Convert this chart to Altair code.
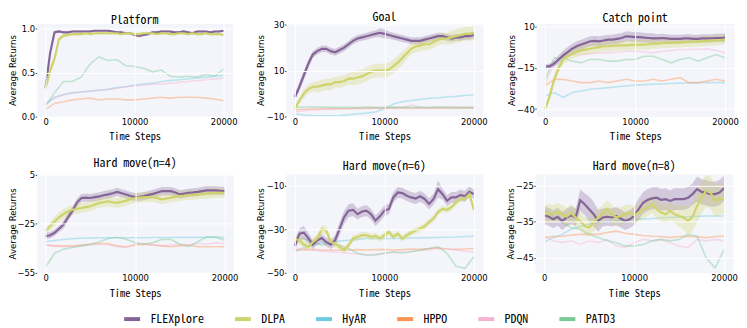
import altair as alt
import pandas as pd

X_MAIN = list(range(0, 20001, 500))
X_BASE = list(range(0, 20001, 1000))

SERIES = ["FLEXplore", "DLPA", "HyAR", "HPPO", "PDQN", "PATD3"]
COLORS = ["#856597", "#cfd36b", "#6dcde0", "#fb9352", "#f5b3d3", "#78ca96"]

MONO = "Noto Sans Mono CJK SC, DejaVu Sans Mono"

# ---------------- Platform ----------------
pf_flex = [0.33, 0.72, 0.96, 0.97, 0.96, 0.96, 0.97, 0.97, 0.97, 0.97,
           0.97, 0.98, 0.98, 0.98, 0.98, 0.97, 0.96, 0.96, 0.95, 0.95,
           0.93, 0.92, 0.93, 0.94, 0.96, 0.96, 0.97, 0.97, 0.97, 0.96,
           0.96, 0.97, 0.96, 0.95, 0.97, 0.97, 0.97, 0.96, 0.97, 0.97,
           0.98]
pf_flex_hw = [0.02, 0.05, 0.02, 0.01, 0.01, 0.01, 0.01, 0.01, 0.01, 0.01,
              0.01, 0.01, 0.01, 0.01, 0.01, 0.01, 0.01, 0.01, 0.01, 0.01,
              0.015, 0.015, 0.015, 0.01, 0.01, 0.01, 0.01, 0.01, 0.01, 0.01,
              0.01, 0.01, 0.01, 0.01, 0.01, 0.01, 0.01, 0.01, 0.01, 0.01,
              0.01]
pf_dlpa = [0.32, 0.52, 0.66, 0.88, 0.92, 0.93, 0.94, 0.94, 0.94, 0.95,
           0.94, 0.95, 0.95, 0.95, 0.95, 0.95, 0.95, 0.94, 0.95, 0.95,
           0.94, 0.94, 0.95, 0.95, 0.95, 0.94, 0.95, 0.95, 0.94, 0.94,
           0.95, 0.95, 0.94, 0.95, 0.94, 0.94, 0.95, 0.94, 0.94, 0.94,
           0.93]
pf_dlpa_hw = [0.02, 0.05, 0.05, 0.03, 0.02, 0.02, 0.015, 0.015, 0.015, 0.015,
              0.015, 0.015, 0.015, 0.015, 0.015, 0.015, 0.015, 0.015, 0.015, 0.015,
              0.015, 0.015, 0.015, 0.015, 0.015, 0.015, 0.015, 0.015, 0.015, 0.015,
              0.015, 0.015, 0.015, 0.015, 0.015, 0.015, 0.015, 0.015, 0.015, 0.015,
              0.015]
pf_hyar = [0.14, 0.22, 0.25, 0.27, 0.28, 0.29, 0.30, 0.31, 0.33, 0.34, 0.36,
           0.37, 0.38, 0.40, 0.41, 0.42, 0.43, 0.44, 0.45, 0.46, 0.47]
pf_hppo = [0.08, 0.15, 0.17, 0.19, 0.20, 0.21, 0.19, 0.20, 0.20, 0.19, 0.19,
           0.20, 0.21, 0.22, 0.21, 0.22, 0.22, 0.22, 0.21, 0.20, 0.18]
pf_pdqn = [0.15, 0.21, 0.25, 0.27, 0.28, 0.29, 0.30, 0.31, 0.32, 0.34, 0.35,
           0.36, 0.37, 0.37, 0.38, 0.39, 0.40, 0.41, 0.42, 0.43, 0.44]
pf_patd3 = [0.12, 0.27, 0.40, 0.40, 0.45, 0.60, 0.68, 0.64, 0.65, 0.58, 0.57,
            0.55, 0.51, 0.53, 0.46, 0.45, 0.46, 0.45, 0.48, 0.46, 0.54]

# ---------------- Goal ----------------
gl_flex = [-1.5, 3, 8, 13, 17, 18.5, 19.5, 19.5, 18.5, 18,
           19, 20, 21.5, 23, 24, 24.5, 25, 25.5, 26, 26.5,
           26, 25.5, 25, 24.5, 24, 23.5, 23, 23, 23, 23.5,
           24, 24.5, 25, 25, 24.5, 24, 24.5, 24.5, 25, 25,
           25.5]
gl_flex_hw = [1.5, 2, 2, 2, 1.5, 1.5, 1.5, 1.5, 1.5, 1.5,
              1.5, 1.5, 1.5, 1.5, 1.5, 1.5, 1.5, 1.5, 1.5, 2,
              2, 1.5, 1.5, 1.5, 1.5, 1.5, 1.5, 1.5, 1.5, 1.5,
              1.5, 1.5, 1.5, 1.5, 1.5, 1.5, 1.5, 1.5, 1.5, 1.5,
              1.5]
gl_dlpa = [-6.5, -3, 0, 2, 3, 3, 3.5, 4, 4, 5,
           5, 5.5, 6.5, 6.5, 7, 7.5, 8.5, 9.5, 10, 10,
           10, 10.5, 12, 13.5, 15.5, 17.5, 19.5, 20.5, 21, 21.5,
           21.5, 22.5, 23.5, 24, 24, 24.5, 25, 25.5, 26, 26,
           26.5]
gl_dlpa_hw = [1, 1.5, 2, 2, 2, 2.5, 2.5, 2.5, 2.5, 2.5,
              2.5, 2.5, 2.5, 3, 3, 3, 3, 3, 3, 3,
              3, 3, 3, 3, 3, 2.5, 2.5, 2.5, 2.5, 2.5,
              2.5, 2.5, 2.5, 2.5, 2.5, 3, 3, 3, 3, 3,
              3]
gl_hyar = [-8.8, -9.3, -9.6, -9.7, -9.7, -9.6, -9.2, -8.8, -8.5, -8, -6.5,
           -4.5, -3.5, -3, -2.5, -2, -1.8, -1.5, -1.2, -0.8, -0.5]
gl_hppo = [-7, -6.8, -6.7, -6.6, -6.5, -6.6, -6.6, -6.5, -6.5, -6.4, -6.4,
           -6.3, -6.3, -6.4, -6.3, -6.3, -6.3, -6.4, -6.3, -6.3, -6.3]
gl_pdqn = [-8, -7.5, -7, -7, -6.8, -6.5, -6.5, -6.3, -6, -6.2, -6.5,
           -6.3, -6, -5, -6, -6.3, -6, -5.8, -6, -6, -6.2]
gl_patd3 = [-6, -5.8, -5.8, -5.9, -6, -6, -6, -6.1, -6, -6, -6,
            -5.9, -6, -6, -6, -6, -5.9, -6, -6, -6, -6]

# ---------------- Catch point ----------------
cp_flex = [-14.5, -14, -12.5, -10, -7.5, -5.5, -3.5, -2, -1, 0,
           1, 1.2, 1, 1.5, 2, 2, 2.5, 3, 4, 3.8,
           3.5, 3.5, 3.2, 3, 2.8, 2.8, 3, 2.8, 2.5, 2.5,
           2.5, 2.8, 2.8, 2.5, 2.5, 2.8, 2.8, 2.8, 3, 3,
           3.2]
cp_flex_hw = [1.5, 1.5, 2, 2.5, 3, 3, 3, 3, 3, 3,
              3, 3, 3, 3, 3, 3, 3, 3, 3, 3,
              3, 3, 3, 3, 3, 2.5, 2.5, 2.5, 2.5, 2.5,
              2.5, 2.5, 2.5, 2.5, 2.5, 2.5, 2.5, 2.5, 2.5, 2.5,
              2.5]
cp_dlpa = [-40, -32, -22, -15, -10, -8, -6.5, -5.5, -4.5, -4,
           -3.5, -3, -2.5, -2, -2, -1.8, -1.5, -1.5, -1.5, -1.2,
           -1.2, -1, -1, -0.8, -0.5, -0.5, -0.2, 0, 0, 0.2,
           0.2, 0.5, 0.5, 0.8, 0.8, 1, 1.2, 1.5, 1.5, 1.8,
           2]
cp_dlpa_hw = [1, 2, 3, 3, 3, 3, 3, 3, 3, 3,
              3, 3, 3, 3, 3, 3, 3, 3, 3, 3,
              3, 3, 3, 3, 3, 3, 3, 3, 3, 3,
              3, 3, 3, 3, 3, 3, 3, 3, 3, 3,
              3]
cp_hyar = [-32, -30, -33, -30, -29, -28, -27.5, -27, -26.5, -26, -25.5,
           -25.2, -25, -24.8, -24.5, -24.3, -24.2, -24.1, -24, -24, -24]
cp_hppo = [-26, -22, -22, -23, -24, -24, -23, -24, -23, -22, -23,
           -23, -22, -23, -22, -21, -24, -24, -23, -22, -23]
cp_pdqn = [-25, -12, -8, -7, -7, -6.5, -6, -6, -5.5, -5, -5,
           -5.5, -6, -5, -4.5, -4, -4, -3.8, -3.6, -4.5, -6]
cp_patd3 = [-22, -9, -9, -11, -12, -10, -10, -11, -11, -10, -10,
            -8, -8, -10, -12, -10, -9, -11, -9, -7, -9]

# ---------------- Hard move (n=4) ----------------
h4_flex = [-32.5, -32, -30.5, -28, -25.5, -21, -17, -12, -9.2, -9,
           -9.2, -8.7, -8.2, -7.5, -7, -6.3, -5.5, -6.3, -7.1, -8,
           -8.7, -8.5, -8, -7.3, -6.7, -5.8, -5, -5, -5, -5.8,
           -7, -6.5, -6, -5.8, -5.5, -5, -4.6, -4.6, -4.6, -4.8,
           -5]
h4_flex_hw = [2, 2, 2, 2, 2.5, 2.5, 2.5, 2.5, 2.5, 2.5,
              2.5, 2.5, 2.5, 2.5, 2.5, 2.5, 2.5, 2.5, 2.5, 2.5,
              2.5, 2.5, 2.5, 2.5, 2.5, 2.5, 2.5, 2.5, 2.5, 2.5,
              2.5, 2.5, 2.5, 2.5, 2.5, 2.5, 2.5, 2.5, 2.5, 2.5,
              2.5]
h4_dlpa = [-29.4, -26.5, -23.6, -21, -19, -17.5, -16.4, -15.8, -15.3, -14.8,
           -14.3, -13.2, -12.2, -11.8, -11.2, -11.8, -12.2, -11.5, -10.8, -10,
           -9.2, -9, -8.8, -8.7, -8.7, -9.3, -10, -9.5, -9, -8.5,
           -8, -7.8, -7.5, -7.3, -7, -6.8, -6.6, -6.4, -6.2, -6.1,
           -6]
h4_dlpa_hw = [2, 2.5, 3, 3, 3, 3, 3, 3, 3, 3,
              3, 3, 3, 3, 3, 3, 3, 3, 3, 3,
              3, 3, 3, 3, 3, 3, 3, 3, 3, 3,
              3, 3, 3, 3, 3, 3, 3, 3, 3, 3,
              3]
h4_hyar = [-35.9, -35.2, -34.6, -34.1, -33.8, -33.6, -33.5, -33.5, -33.5, -33.5, -33.5,
           -33.5, -33.4, -33.4, -33.4, -33.3, -33.3, -33.3, -33.3, -33.3, -33.3]
h4_hppo = [-38, -38.5, -38.5, -38.5, -38, -37.5, -37, -37, -38.5, -39, -38,
           -37.5, -38, -38.5, -39, -38.5, -38, -39, -39, -39, -39]
h4_pdqn = [-38, -38.5, -39, -39, -38.5, -38, -37.5, -38, -39, -39.5, -37.5,
           -37, -38, -38.5, -38, -37.5, -38, -37, -37.5, -36.5, -37]
h4_patd3 = [-51.4, -43, -40.5, -39.5, -38.5, -37.5, -36, -34, -33.2, -34.5, -36.5,
            -37.5, -36.5, -34.5, -34.5, -37.5, -39, -36, -33, -33, -35]

# ---------------- Hard move (n=6) ----------------
h6_flex = [-37.6, -32, -31.5, -34, -37, -35, -34, -35.8, -37, -35,
           -29.7, -24.4, -21.4, -21, -23, -21.8, -21.4, -23, -26, -24,
           -21.4, -20.6, -15.3, -13, -13.3, -14.5, -15.3, -15.8, -14.8, -16,
           -18.3, -16, -11.5, -13.8, -16.8, -15.3, -15.3, -14.2, -14.8, -12.7,
           -13.8]
h6_flex_hw = [2, 2.5, 3, 2.5, 2, 2, 2, 2, 2, 2.5,
              3, 3, 3, 3, 2.5, 2.5, 2.5, 2.5, 2.5, 2.5,
              2.5, 2.5, 2.5, 2.5, 2.5, 2.5, 2.5, 2.5, 2.5, 2.5,
              2.5, 2.5, 4, 2.5, 2.5, 2.5, 2.5, 2.5, 2.5, 2.5,
              2]
h6_dlpa = [-34.5, -35, -37, -38, -35.8, -34.2, -30, -30.5, -35.8, -36.5,
           -38, -39.5, -37.3, -34.2, -33.5, -32.7, -32.7, -33.5, -33, -34.2,
           -32.7, -31.2, -33.5, -32, -34.2, -32.7, -31.5, -30.5, -29.7, -28.5,
           -26.7, -25, -22, -20.6, -21, -19.8, -17.6, -16, -15.8, -13.8,
           -21]
h6_dlpa_hw = [2, 2, 2, 2, 2, 2, 2, 2, 2, 2,
              1.5, 1.5, 1.5, 1.5, 1.5, 1.5, 1.5, 1.5, 1.5, 1.5,
              1.5, 1.5, 1.5, 1.5, 1.5, 1.5, 1.5, 1.5, 1.5, 1.5,
              1.5, 1.5, 1.5, 1.5, 1.5, 1.5, 1.5, 1.5, 1.5, 1.5,
              1.5]
h6_hyar = [-40.3, -38.5, -37.3, -36.5, -35.8, -35.4, -35, -34.6, -34.2, -34.2, -34.2,
           -34.2, -34.2, -34, -33.9, -33.8, -33.7, -33.6, -33.5, -33.3, -33.2]
h6_hppo = [-39.5, -39.5, -39.2, -39.5, -39.5, -39.6, -39.5, -39.3, -39.5, -39.3, -39.2,
           -39.5, -39.3, -39, -39.2, -38.8, -38.5, -39, -39.2, -39, -38.8]
h6_pdqn = [-38.8, -38.8, -39.5, -40, -40.3, -40.6, -41, -41.4, -41.8, -41.5, -41,
           -40.6, -40.3, -40, -39.8, -39.3, -38.8, -39, -39.5, -40, -40.3]
h6_patd3 = [-35.8, -34.2, -35.8, -37.3, -36.5, -37.3, -38.8, -41, -41.8, -41.8, -41,
            -40.3, -41, -40.3, -39.5, -38.8, -38, -41, -47, -47.9, -42.6]

# ---------------- Hard move (n=8) ----------------
h8_flex = [-33.2, -33.6, -34.3, -33.6, -34.8, -33.8, -33.2, -33.8, -29.0, -30.1,
           -31.5, -32.9, -34.8, -33.8, -33.6, -33.8, -33.4, -34.1, -34.8, -34.3,
           -33.4, -31.5, -29.7, -28.9, -28.5, -28.3, -28.9, -28.7, -29.2, -28.7,
           -28.7, -28.7, -28.3, -27.3, -25.9, -26.7, -26.9, -27.3, -27.3, -26.9,
           -25.7]
h8_flex_hw = [2.5, 2.5, 2.5, 2.5, 2.5, 2.5, 2.5, 2.5, 3, 3,
              3.5, 3.5, 3, 2.5, 2.5, 2.5, 2.5, 2.5, 2.5, 2.5,
              2.5, 3, 3, 3, 3, 3, 3, 3, 3, 3,
              3, 3, 3, 3, 3.5, 3.5, 3.5, 3.5, 3.5, 3.5,
              3.5]
h8_dlpa = [-32.9, -32.6, -32.9, -32.3, -32.9, -33.6, -32.6, -33.8, -34.8, -36.2,
           -36.6, -35.2, -33.8, -32.9, -31.5, -32.9, -33.8, -33.4, -32.9, -32.6,
           -33.2, -32.4, -31.5, -31.0, -30.1, -31.5, -32.4, -32.9, -32.0, -32.9,
           -33.4, -33.8, -34.8, -33.6, -30.6, -28.3, -26.4, -26.9, -29.2, -28.7,
           -28.7]
h8_dlpa_hw = [2.5, 2.5, 2.5, 2.5, 2.5, 2.5, 2.5, 2.5, 2.5, 2.5,
              2.5, 2.5, 2.5, 2.5, 2.5, 2.5, 2.5, 2.5, 2.5, 2.5,
              2.5, 2.5, 2.5, 2.5, 2.5, 2.5, 2.5, 2.5, 2.5, 2.5,
              3, 3.5, 4, 4, 4.5, 4.5, 4.5, 4.5, 4.5, 4.5,
              4]
h8_hyar = [-40.6, -39.4, -38.5, -37.1, -36.3, -35.7, -35.2, -35.0, -34.8, -34.5, -34.3,
           -34.2, -34.1, -33.9, -33.8, -33.7, -33.6, -33.5, -33.4, -33.4, -33.4]
h8_hppo = [-39.4, -39.1, -39.0, -38.7, -38.5, -38.5, -38.5, -38.0, -37.6, -38.2, -38.5,
           -38.8, -39.0, -39.1, -39.4, -39.1, -39.0, -39.2, -39.4, -39.1, -39.0]
h8_pdqn = [-39.0, -40.3, -40.8, -40.3, -41.3, -40.3, -40.8, -39.9, -41.7, -42.2, -40.8,
           -39.9, -40.3, -39.9, -40.8, -41.7, -42.2, -39.9, -40.3, -39.9, -40.3]
h8_patd3 = [-31.7, -33.4, -35.2, -36.6, -37.1, -38.5, -39.4, -40.3, -40.8, -41.7, -41.7,
            -41.3, -40.3, -39.9, -40.3, -39.9, -38.5, -39.0, -45.0, -47.8, -42.7]

PANELS = [
    ("Platform", [0, 1.06], [0.0, 0.5, 1.0], ".1f",
     pf_flex, pf_flex_hw, pf_dlpa, pf_dlpa_hw, pf_hyar, pf_hppo, pf_pdqn, pf_patd3),
    ("Goal", [-10, 30.5], [-10, 10, 30], "d",
     gl_flex, gl_flex_hw, gl_dlpa, gl_dlpa_hw, gl_hyar, gl_hppo, gl_pdqn, gl_patd3),
    ("Catch point", [-44.5, 11.7], [-40, -15, 10], "d",
     cp_flex, cp_flex_hw, cp_dlpa, cp_dlpa_hw, cp_hyar, cp_hppo, cp_pdqn, cp_patd3),
    ("Hard move(n=4)", [-55, 5.5], [-55, -25, 5], "d",
     h4_flex, h4_flex_hw, h4_dlpa, h4_dlpa_hw, h4_hyar, h4_hppo, h4_pdqn, h4_patd3),
    ("Hard move(n=6)", [-50, -4.5], [-50, -30, -10], "d",
     h6_flex, h6_flex_hw, h6_dlpa, h6_dlpa_hw, h6_hyar, h6_hppo, h6_pdqn, h6_patd3),
    ("Hard move(n=8)", [-49.2, -21.7], [-45, -35, -25], "d",
     h8_flex, h8_flex_hw, h8_dlpa, h8_dlpa_hw, h8_hyar, h8_hppo, h8_pdqn, h8_patd3),
]

WIDTHS = [198, 199, 200, 199, 199, 200]
HEIGHTS = [94, 94, 94, 100, 100, 100]
TITLE_OFFSETS = [-3, -3, -3, 1, 1, 1]

color_scale = alt.Scale(domain=SERIES, range=COLORS)
legend = alt.Legend(
    orient="none", legendX=86, legendY=288, direction="horizontal", columns=6,
    title=None, symbolType="stroke", symbolStrokeWidth=4, symbolSize=260,
    symbolOpacity=1, labelFont=MONO, labelFontSize=12, labelFontWeight=300,
    labelColor="black", columnPadding=22, labelOffset=8,
)


def make_panel(i, spec):
    (title, ydom, yticks, yfmt, flex, flex_hw, dlpa, dlpa_hw,
     hyar, hppo, pdqn, patd3) = spec
    main_rows = []
    for name, vals, hw in (("FLEXplore", flex, flex_hw), ("DLPA", dlpa, dlpa_hw)):
        for x, v, h in zip(X_MAIN, vals, hw):
            main_rows.append({"x": x, "y": v, "lo": v - h, "hi": v + h, "series": name})
    main_df = pd.DataFrame(main_rows)
    base_rows = []
    for name, vals in (("HyAR", hyar), ("HPPO", hppo), ("PDQN", pdqn), ("PATD3", patd3)):
        for x, v in zip(X_BASE, vals):
            base_rows.append({"x": x, "y": v, "series": name})
    base_df = pd.DataFrame(base_rows)

    xaxis = alt.Axis(values=[0, 10000, 20000], format="d", title="Time Steps",
                     grid=True, gridColor="white", gridWidth=1, domain=False,
                     ticks=False, labelPadding=1, labelFont="DejaVu Sans",
                     labelFontSize=8.5, labelColor="black",
                     titleFont=MONO, titleFontSize=10.5,
                     titleFontWeight=300, titleColor="black", titlePadding=6,
                     zindex=1)
    yargs = dict(values=yticks, format=yfmt, title="Average Returns",
                 grid=True, gridColor="white", gridWidth=1, domain=False,
                 ticks=True, tickSize=1.5, tickColor="#444", labelPadding=0.5,
                 labelFont="DejaVu Sans", labelFontSize=8.5, labelColor="black",
                 titleFont="DejaVu Sans", titleFontSize=8.7,
                 titleFontWeight="normal", titleColor="black", titlePadding=0.5,
                 zindex=1)
    if i in (0, 3):
        yargs.update(minExtent=19, maxExtent=19)
    yaxis = alt.Axis(**yargs)
    xs = alt.Scale(domain=[-1000, 21000], nice=False, zero=False)
    ys = alt.Scale(domain=ydom, nice=False, zero=False)
    col = alt.Color("series:N", scale=color_scale, legend=legend)

    base = alt.Chart(base_df).mark_line(strokeWidth=1.6, opacity=0.42, clip=True).encode(
        x=alt.X("x:Q", scale=xs, axis=xaxis),
        y=alt.Y("y:Q", scale=ys, axis=yaxis),
        color=col,
    )
    band = alt.Chart(main_df).mark_area(opacity=0.3, clip=True).encode(
        x=alt.X("x:Q", scale=xs, axis=xaxis),
        y=alt.Y("lo:Q", scale=ys, axis=yaxis),
        y2="hi:Q",
        color=col,
    )
    line = alt.Chart(main_df).mark_line(strokeWidth=2.2, clip=True).encode(
        x=alt.X("x:Q", scale=xs, axis=xaxis),
        y=alt.Y("y:Q", scale=ys, axis=yaxis),
        color=col,
    )
    return alt.layer(base, band, line).properties(
        width=WIDTHS[i], height=HEIGHTS[i],
        title=alt.TitleParams(text=title, font=MONO, fontSize=12,
                              fontWeight=300, color="black",
                              offset=TITLE_OFFSETS[i], anchor="middle"),
    )


panels = [make_panel(i, s) for i, s in enumerate(PANELS)]
row1 = alt.hconcat(*panels[:3], spacing=54, bounds="flush")
row2 = alt.hconcat(*panels[3:], spacing=53, bounds="flush")
chart = alt.vconcat(row1, row2, spacing=13).properties(
    padding={"left": 0, "top": 0, "right": 0, "bottom": 0}
).configure(padding=0).configure_view(fill="#f4f5fb", stroke="transparent")

chart.save("out.html", embed_options={"renderer": "svg", "actions": False})
